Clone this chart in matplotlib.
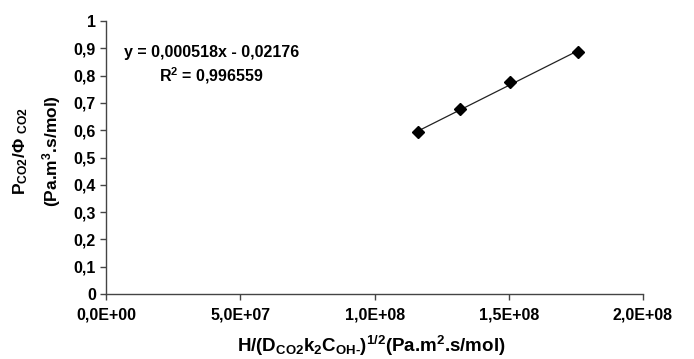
import matplotlib
matplotlib.use("Agg")
import matplotlib.pyplot as plt
import numpy as np

plt.rcParams['font.family'] = ['Liberation Sans', 'DejaVu Sans']
plt.rcParams['font.weight'] = 'bold'
plt.rcParams['mathtext.fontset'] = 'custom'
plt.rcParams['mathtext.rm'] = 'Liberation Sans:bold'
plt.rcParams['mathtext.bf'] = 'Liberation Sans:bold'
plt.rcParams['mathtext.it'] = 'Liberation Sans:bold'
plt.rcParams['mathtext.default'] = 'bf'

x_vals = [1.163e8, 1.320e8, 1.506e8, 1.758e8]
y_vals = [0.592, 0.677, 0.777, 0.885]
x_ticks = [0, 5e7, 1e8, 1.5e8, 2e8]
x_ticklabels = ["0,0E+00", "5,0E+07", "1,0E+08", "1,5E+08", "2,0E+08"]
y_ticks = [0, 0.1, 0.2, 0.3, 0.4, 0.5, 0.6, 0.7, 0.8, 0.9, 1.0]
y_ticklabels = ["0", "0,1", "0,2", "0,3", "0,4", "0,5", "0,6", "0,7", "0,8", "0,9", "1"]
eq_text = "y = 0,000518x - 0,02176"
r2_text = r"R$^2$ = 0,996559"

fig = plt.figure(figsize=(6.94, 3.59), dpi=100)
ax = fig.add_axes([0.153, 0.181, 0.7735, 0.7605])

xs = np.array(x_vals); ys = np.array(y_vals)
m, b = np.polyfit(xs, ys, 1)
xl = np.array([xs.min(), xs.max()])
ax.plot(xl, m * xl + b, color='#222222', lw=0.9, zorder=2)
ax.plot(xs, ys, linestyle='none', marker='D', markersize=6.5, color='black', zorder=3)

ax.set_xlim(0, 2e8)
ax.set_ylim(0, 1)
ax.set_xticks(x_ticks)
ax.set_xticklabels(x_ticklabels, fontsize=11.5, fontweight='bold')
ax.set_yticks(y_ticks)
ax.set_yticklabels(y_ticklabels, fontsize=11.5, fontweight='bold')
for s in ['top', 'right']:
    ax.spines[s].set_visible(False)
for s in ['left', 'bottom']:
    ax.spines[s].set_color('#444444')
    ax.spines[s].set_linewidth(1.0)
ax.tick_params(direction='out', length=4, width=1, color='#444444')
ax.tick_params(axis='x', pad=6)

ax.text(0.1955, 0.885, eq_text, transform=ax.transAxes, fontsize=11.5, fontweight='bold', ha='center', va='center')
ax.text(0.1955, 0.80, r2_text, transform=ax.transAxes, fontsize=11.5, fontweight='bold', ha='center', va='center')

fig.text(0.030, 0.58, r"P$_{\rm CO2}$/$\Phi$ $_{\rm CO2}$", rotation=90, fontsize=12.5, fontweight='bold', ha='center', va='center')
fig.text(0.074, 0.578, r"(Pa.m$^3$.s/mol)", rotation=90, fontsize=12.5, fontweight='bold', ha='center', va='center')
fig.text(0.535, 0.035, r"H/(D$_{\rm CO2}$k$_2$C$_{\rm OH\text{-}}$)$^{1/2}$(Pa.m$^2$.s/mol)", fontsize=13.5, fontweight='bold', ha='center', va='center')

fig.savefig("out.png", dpi=100)
